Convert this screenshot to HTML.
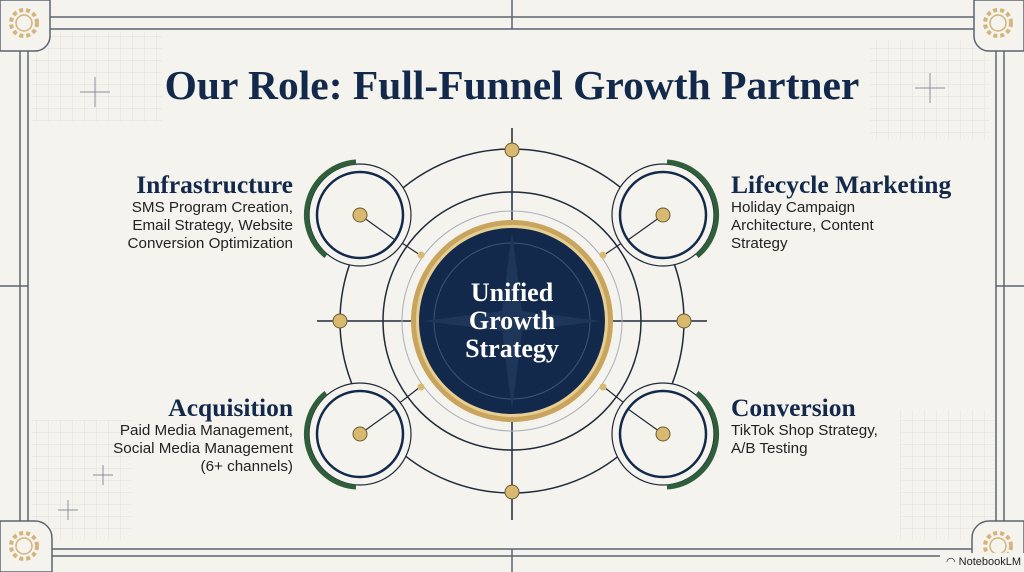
<!DOCTYPE html>
<html><head><meta charset="utf-8"><style>
body{margin:0;width:1024px;height:572px;background:#f4f3ee;overflow:hidden;position:relative;font-family:"Liberation Sans",sans-serif}
.t{position:absolute;color:#13294b}
h1{position:absolute;top:61px;left:0;width:1024px;text-align:center;margin:0;font-family:"Liberation Serif",serif;font-size:41.5px;font-weight:bold;color:#13294b}
.hd{font-family:"Liberation Serif",serif;font-weight:bold;font-size:25.5px;line-height:28px;color:#13294b}
.bd{font-size:15.2px;line-height:18px;color:#222}
</style></head><body>
<svg width="1024" height="572" style="position:absolute;left:0;top:0">
<defs><pattern id="g" width="12" height="12" patternUnits="userSpaceOnUse"><path d="M12 0H0V12" fill="none" stroke="#dcdcd6" stroke-width="0.7"/></pattern>
<g id="s"><circle r="51" fill="#f4f3ee" stroke="#1f2a3a" stroke-width="1.2"/><circle r="43" fill="none" stroke="#13294b" stroke-width="2.5"/></g>
</defs>
<rect x="32" y="32" width="130" height="90" fill="url(#g)"/>
<rect x="32" y="420" width="100" height="120" fill="url(#g)"/>
<rect x="870" y="40" width="120" height="100" fill="url(#g)"/>
<rect x="900" y="410" width="95" height="130" fill="url(#g)"/>
<g stroke="#5b6470" stroke-width="1.5" fill="none">
<line x1="0" y1="17" x2="1024" y2="17"/><line x1="28" y1="29" x2="996" y2="29"/>
<line x1="0" y1="556" x2="1024" y2="556"/><line x1="28" y1="549" x2="996" y2="549"/>
<line x1="20" y1="0" x2="20" y2="572"/><line x1="28" y1="29" x2="28" y2="549"/>
<line x1="1004" y1="0" x2="1004" y2="572"/><line x1="996" y1="29" x2="996" y2="549"/>
<line x1="512" y1="0" x2="512" y2="29"/><line x1="512" y1="549" x2="512" y2="572"/>
<line x1="0" y1="286" x2="28" y2="286"/><line x1="996" y1="286" x2="1024" y2="286"/>
</g>
<g stroke="#8a8f96" stroke-width="1"><path d="M80 92H110M95 77V107M915 88H945M930 73V103M58 510H78M68 500V520M93 475H113M103 465V485"/></g>
<g fill="#f4f3ee" stroke="#5b6470" stroke-width="1.5">
<path d="M0 0H50V36A15 15 0 0 1 35 51H0Z"/>
<path d="M1024 0H974V36A15 15 0 0 0 989 51H1024Z"/>
<path d="M0 572H52V538A17 17 0 0 0 35 521H0Z"/>
<path d="M1024 572H972V538A17 17 0 0 1 989 521H1024Z"/>
</g>
<g fill="none" stroke="#d4b47a" stroke-width="1.5">
<circle cx="24" cy="23" r="8"/><circle cx="24" cy="23" r="13" stroke-dasharray="4 3" stroke-width="4"/>
<circle cx="998" cy="23" r="8"/><circle cx="998" cy="23" r="13" stroke-dasharray="4 3" stroke-width="4"/>
<circle cx="24" cy="546" r="8"/><circle cx="24" cy="546" r="13" stroke-dasharray="4 3" stroke-width="4"/>
<circle cx="998" cy="546" r="8"/><circle cx="998" cy="546" r="13" stroke-dasharray="4 3" stroke-width="4"/>
</g>
<rect x="940" y="553" width="84" height="19" fill="#f4f3ee"/>
<g stroke="#1f2a3a" fill="none" stroke-width="1.5">
<line x1="317" y1="321" x2="707" y2="321"/><line x1="512" y1="128" x2="512" y2="520"/>
<circle cx="512" cy="321" r="172"/><circle cx="512" cy="321" r="129"/>
<circle cx="512" cy="321" r="110" stroke="#aab0b8" stroke-width="1"/>
<line x1="360" y1="215" x2="420" y2="255" stroke-width="1.2"/><line x1="663" y1="215" x2="604" y2="255" stroke-width="1.2"/>
<line x1="360" y1="434" x2="420" y2="387" stroke-width="1.2"/><line x1="663" y1="434" x2="604" y2="387" stroke-width="1.2"/>
</g>
<use href="#s" x="360" y="215"/><use href="#s" x="663" y="215"/><use href="#s" x="360" y="434"/><use href="#s" x="663" y="434"/>
<g stroke="#2e5e3a" stroke-width="5" fill="none">
<path d="M356 162A53 53 0 0 0 326 256"/>
<path d="M667 162A53 53 0 0 1 697 256"/>
<path d="M326 393A53 53 0 0 0 356 487"/>
<path d="M697 393A53 53 0 0 1 667 487"/>
</g>
<g stroke="#1f2a3a" stroke-width="1.2"><line x1="360" y1="215" x2="395" y2="240"/><line x1="663" y1="215" x2="628" y2="240"/><line x1="360" y1="434" x2="395" y2="409"/><line x1="663" y1="434" x2="628" y2="409"/></g>
<circle cx="512" cy="321" r="101" fill="#c9a45c"/>
<circle cx="512" cy="321" r="96" fill="#e7cf94"/>
<circle cx="512" cy="321" r="93" fill="#13294b"/>
<circle cx="512" cy="321" r="78" fill="none" stroke="#3d5478" stroke-width="1"/>
<path d="M512 232L522 311L601 321L522 331L512 410L502 331L423 321L502 311Z" fill="#1e3659"/>
<g fill="#d9b970" stroke="#6b5a35" stroke-width="1">
<circle cx="512" cy="150" r="7"/><circle cx="512" cy="492" r="7"/><circle cx="340" cy="321" r="7"/><circle cx="684" cy="321" r="7"/>
<circle cx="360" cy="215" r="7"/><circle cx="663" cy="215" r="7"/><circle cx="360" cy="434" r="7"/><circle cx="663" cy="434" r="7"/>
<circle cx="421" cy="255" r="3.5" stroke="none"/><circle cx="603" cy="255" r="3.5" stroke="none"/><circle cx="421" cy="387" r="3.5" stroke="none"/><circle cx="603" cy="387" r="3.5" stroke="none"/>
</g>
</svg>
<h1>Our Role: Full-Funnel Growth Partner</h1>
<div class="t" style="left:440px;top:279px;width:144px;text-align:center;color:#fff;font-family:'Liberation Serif',serif;font-weight:bold;font-size:26px;line-height:28px">Unified<br>Growth<br>Strategy</div>
<div class="t" style="right:731px;top:171px;text-align:right"><div class="hd">Infrastructure</div><div class="bd">SMS Program Creation,<br>Email Strategy, Website<br>Conversion Optimization</div></div>
<div class="t" style="left:731px;top:171px"><div class="hd">Lifecycle Marketing</div><div class="bd">Holiday Campaign<br>Architecture, Content<br>Strategy</div></div>
<div class="t" style="right:731px;top:394px;text-align:right"><div class="hd">Acquisition</div><div class="bd">Paid Media Management,<br>Social Media Management<br>(6+ channels)</div></div>
<div class="t" style="left:731px;top:394px"><div class="hd">Conversion</div><div class="bd">TikTok Shop Strategy,<br>A/B Testing</div></div>
<div class="t" style="left:946px;top:555px;font-size:11px;color:#222">◠ NotebookLM</div>
</body></html>
